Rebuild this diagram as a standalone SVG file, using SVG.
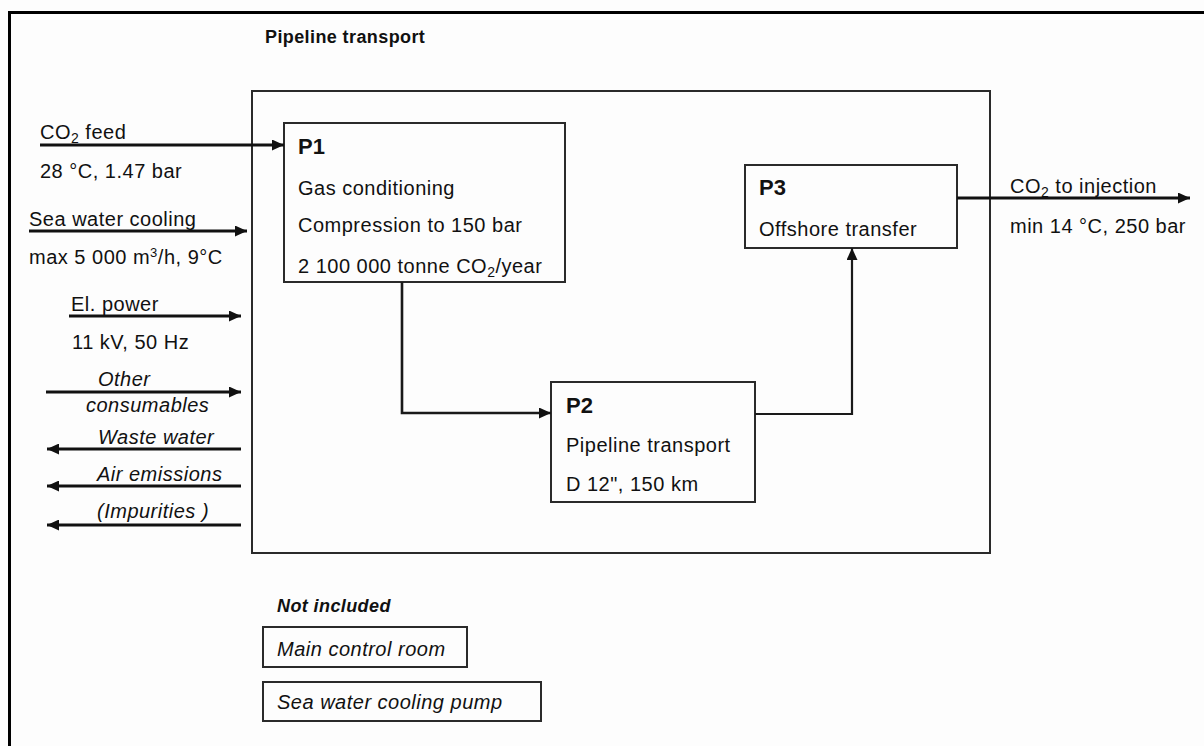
<svg xmlns="http://www.w3.org/2000/svg" width="1204" height="746" viewBox="0 0 1204 746">
<style>
text{font-family:"Liberation Sans",Arial,sans-serif;fill:#111;font-size:20px;letter-spacing:0.5px}
.b{font-weight:bold}
.pt{font-weight:bold;font-size:22px;letter-spacing:0}
.i{font-style:italic}
.box{fill:none;stroke:#2a2a2a;stroke-width:2}
.flow{fill:none;stroke:#111;stroke-width:3}
.conn{fill:none;stroke:#1a1a1a;stroke-width:2.2}
</style>
<defs>
<marker id="ah" markerUnits="userSpaceOnUse" markerWidth="13" markerHeight="11" refX="12" refY="5.5" orient="auto">
<path d="M0,0 L12,5.5 L0,11 z" fill="#111"/>
</marker>
</defs>
<rect x="0" y="0" width="1204" height="746" fill="#fdfdfd"/>
<path d="M9.5,760 V12.5 H1220" fill="none" stroke="#000" stroke-width="3"/>
<text class="b" x="265" y="43" style="font-size:18px;letter-spacing:0.4px">Pipeline transport</text>
<rect id="system" x="252" y="91" width="738" height="462" class="box"/>

<g id="P1">
<rect x="284" y="123" width="281" height="159" class="box"/>
<text class="pt" x="298" y="154">P1</text>
<text x="298" y="195">Gas conditioning</text>
<text x="298" y="232">Compression to 150 bar</text>
<text x="298" y="273">2 100 000 tonne CO<tspan font-size="14" dy="4">2</tspan><tspan dy="-4">/year</tspan></text>
</g>

<g id="P2">
<rect x="551" y="382" width="204" height="120" class="box"/>
<text class="pt" x="566" y="413">P2</text>
<text x="566" y="452">Pipeline transport</text>
<text x="566" y="491">D 12", 150 km</text>
</g>

<g id="P3">
<rect x="745" y="165" width="212" height="83" class="box"/>
<text class="pt" x="759" y="195">P3</text>
<text x="759" y="236">Offshore transfer</text>
</g>

<g id="not-included">
<text class="b i" x="277" y="612" style="font-size:18px;letter-spacing:0.4px">Not included</text>
<rect x="263" y="627" width="204" height="40" class="box"/>
<text class="i" x="277" y="656">Main control room</text>
<rect x="263" y="682" width="278" height="39" class="box"/>
<text class="i" x="277" y="709">Sea water cooling pump</text>
</g>

<g id="labels">
<text x="40" y="139">CO<tspan font-size="14" dy="4">2</tspan><tspan dy="-4"> feed</tspan></text>
<text x="40" y="178">28 °C, 1.47 bar</text>
<text x="29" y="226">Sea water cooling</text>
<text x="29" y="264">max 5 000 m<tspan font-size="13" dy="-7">3</tspan><tspan dy="7">/h, 9°C</tspan></text>
<text x="71" y="311">El. power</text>
<text x="72" y="349">11 kV, 50 Hz</text>
<text class="i" x="98" y="386">Other</text>
<text class="i" x="86" y="412">consumables</text>
<text class="i" x="98" y="444">Waste water</text>
<text class="i" x="97" y="481">Air emissions</text>
<text class="i" x="97" y="518">(Impurities )</text>
<text x="1010" y="193">CO<tspan font-size="14" dy="4">2</tspan><tspan dy="-4"> to injection</tspan></text>
<text x="1010" y="233">min 14 °C, 250 bar</text>
</g>

<g id="connectors">
<line x1="40" y1="145" x2="284" y2="145" class="flow" marker-end="url(#ah)"/>
<line x1="29" y1="231" x2="247" y2="231" class="flow" marker-end="url(#ah)"/>
<line x1="69" y1="316" x2="241" y2="316" class="flow" marker-end="url(#ah)"/>
<line x1="46" y1="392" x2="241" y2="392" class="flow" marker-end="url(#ah)"/>
<line x1="241" y1="449" x2="47" y2="449" class="flow" marker-end="url(#ah)"/>
<line x1="241" y1="486" x2="47" y2="486" class="flow" marker-end="url(#ah)"/>
<line x1="241" y1="525" x2="47" y2="525" class="flow" marker-end="url(#ah)"/>
<path d="M402,282 V413 H551" class="conn" marker-end="url(#ah)" style="stroke-width:2.6"/>
<path d="M755,414 H852 V248" class="conn" marker-end="url(#ah)"/>
<line x1="957" y1="198" x2="1190" y2="198" class="flow" marker-end="url(#ah)"/>
</g>
</svg>
